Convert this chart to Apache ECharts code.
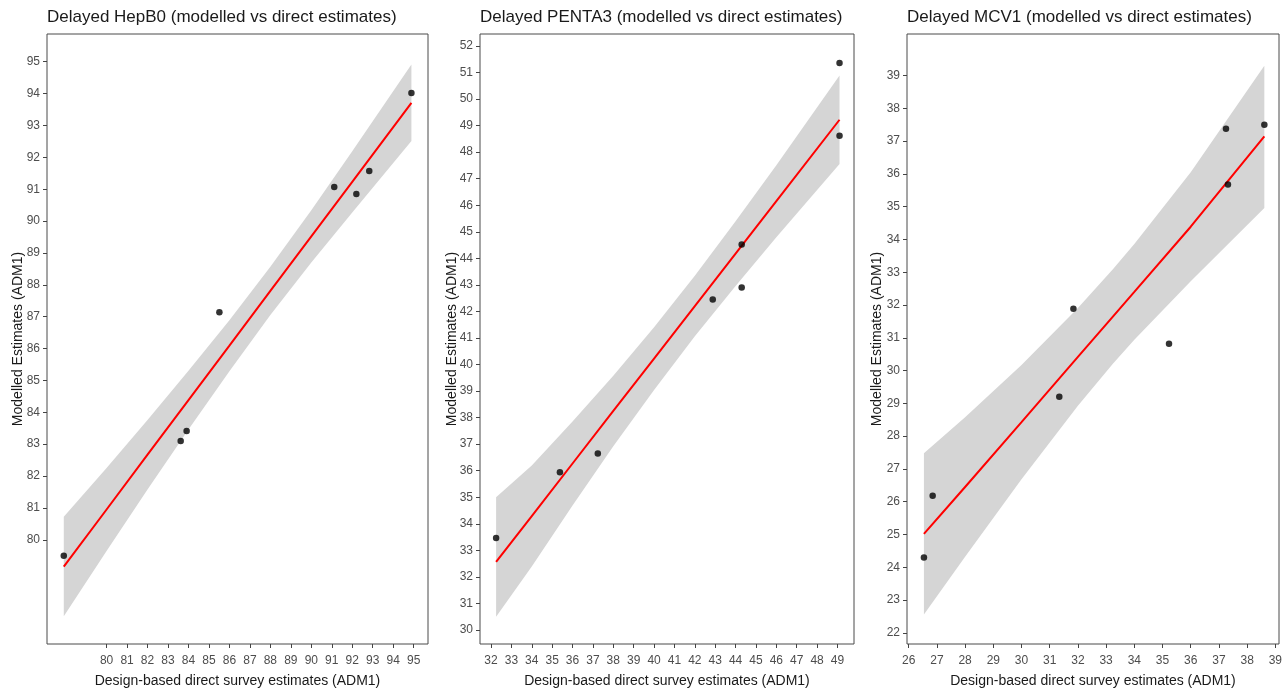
<!DOCTYPE html>
<html>
<head>
<meta charset="utf-8">
<script src="https://cdn.jsdelivr.net/npm/echarts@6/dist/echarts.min.js"></script>
<style>
  html, body { margin: 0; padding: 0; background: #fff; }
  #chart { width: 1282px; height: 691px; }
</style>
</head>
<body>
<div id="chart"></div>
<script>
// ---- Delayed HepB0 ----
const hepTitle = 'Delayed HepB0 (modelled vs direct estimates)';
const hepDirect = [77.91, 85.51, 83.62, 83.91, 91.12, 92.20, 92.83, 94.89];
const hepModel  = [79.50, 87.14, 83.10, 83.41, 91.07, 90.85, 91.57, 94.02];
const hepFitX   = [77.91, 80, 82, 84, 86, 88, 90, 92, 94.89];
const hepFitY   = [79.16, 80.95, 82.67, 84.38, 86.09, 87.81, 89.52, 91.23, 93.71];
const hepFitLo  = [77.60, 79.65, 81.58, 83.46, 85.29, 87.05, 88.70, 90.27, 92.51];
const hepFitHi  = [80.72, 82.25, 83.76, 85.30, 86.89, 88.57, 90.34, 92.19, 94.91];
const hepTicks  = [80, 81, 82, 83, 84, 85, 86, 87, 88, 89, 90, 91, 92, 93, 94, 95];

// ---- Delayed PENTA3 ----
const pentaTitle = 'Delayed PENTA3 (modelled vs direct estimates)';
const pentaDirect = [32.25, 35.38, 37.24, 42.88, 44.30, 44.30, 49.10, 49.10];
const pentaModel  = [33.46, 35.94, 36.65, 42.45, 44.52, 42.90, 51.36, 48.62];
const pentaFitX   = [32.25, 34, 36, 38, 40, 42, 44, 46, 49.10];
const pentaFitY   = [32.56, 34.29, 36.27, 38.25, 40.22, 42.20, 44.18, 46.15, 49.22];
const pentaFitLo  = [30.50, 32.39, 34.69, 36.92, 39.04, 41.06, 42.96, 44.79, 47.55];
const pentaFitHi  = [35.00, 36.19, 37.85, 39.58, 41.40, 43.34, 45.40, 47.51, 50.89];
const pentaXTicks = [32, 33, 34, 35, 36, 37, 38, 39, 40, 41, 42, 43, 44, 45, 46, 47, 48, 49];
const pentaYTicks = [30, 31, 32, 33, 34, 35, 36, 37, 38, 39, 40, 41, 42, 43, 44, 45, 46, 47, 48, 49, 50, 51, 52];

// ---- Delayed MCV1 ----
const mcvTitle = 'Delayed MCV1 (modelled vs direct estimates)';
const mcvDirect = [26.54, 26.85, 31.34, 31.84, 35.23, 37.25, 38.61, 37.32];
const mcvModel  = [24.30, 26.18, 29.20, 31.89, 30.82, 37.38, 37.50, 35.68];
const mcvFitX   = [26.54, 28, 30, 32, 33.24, 34, 36, 38.61];
const mcvFitY   = [25.02, 26.45, 28.43, 30.42, 31.65, 32.40, 34.39, 37.15];
const mcvFitLo  = [22.56, 24.32, 26.69, 28.93, 30.21, 30.94, 32.73, 34.96];
const mcvFitHi  = [27.48, 28.58, 30.17, 31.91, 33.09, 33.86, 36.05, 39.30];
const mcvXTicks = [26, 27, 28, 29, 30, 31, 32, 33, 34, 35, 36, 37, 38, 39];
const mcvYTicks = [22, 23, 24, 25, 26, 27, 28, 29, 30, 31, 32, 33, 34, 35, 36, 37, 38, 39];

const xName = 'Design-based direct survey estimates (ADM1)';
const yName = 'Modelled Estimates (ADM1)';

const FONT = '"Liberation Sans", Arial, sans-serif';
const panels = [
  { title: hepTitle, direct: hepDirect, model: hepModel, fx: hepFitX, fy: hepFitY, lo: hepFitLo, hi: hepFitHi,
    xTicks: hepTicks, yTicks: hepTicks, xMin: 77.09, xMax: 95.70, yMin: 76.73, yMax: 95.87,
    grid: { left: 47, top: 34, width: 381, height: 610 }, yGap: 22 },
  { title: pentaTitle, direct: pentaDirect, model: pentaModel, fx: pentaFitX, fy: pentaFitY, lo: pentaFitLo, hi: pentaFitHi,
    xTicks: pentaXTicks, yTicks: pentaYTicks, xMin: 31.46, xMax: 49.81, yMin: 29.47, yMax: 52.45,
    grid: { left: 480, top: 34, width: 374, height: 610 }, yGap: 21 },
  { title: mcvTitle, direct: mcvDirect, model: mcvModel, fx: mcvFitX, fy: mcvFitY, lo: mcvFitLo, hi: mcvFitHi,
    xTicks: mcvXTicks, yTicks: mcvYTicks, xMin: 25.94, xMax: 39.13, yMin: 21.66, yMax: 40.27,
    grid: { left: 907, top: 34, width: 372, height: 610 }, yGap: 23 }
];

// Confidence band drawn as one closed polygon: upper edge left→right, lower edge back.
function ribbonRenderer(xs, lo, hi) {
  return function (params, api) {
    if (params.dataIndex !== 0) return null;
    const pts = [];
    for (let i = 0; i < xs.length; i++) pts.push(api.coord([xs[i], hi[i]]));
    for (let i = xs.length - 1; i >= 0; i--) pts.push(api.coord([xs[i], lo[i]]));
    return { type: 'polygon', shape: { points: pts }, style: { fill: '#d5d5d5' } };
  };
}

const option = {
  backgroundColor: '#ffffff',
  animation: false,
  title: [], grid: [], xAxis: [], yAxis: [], series: []
};

panels.forEach((p, i) => {
  option.title.push({
    text: p.title, left: p.grid.left, top: 9, padding: 0,
    textStyle: { fontFamily: FONT, fontSize: 17, fontWeight: 'normal', color: '#1a1a1a' }
  });
  option.grid.push(Object.assign({
    show: true, borderColor: '#4a4a4a', borderWidth: 1, backgroundColor: '#fff',
    containLabel: false, outerBoundsMode: 'none'
  }, p.grid));
  const axisCommon = {
    type: 'value', splitLine: { show: false }, axisLine: { show: false },
    nameMoveOverlap: false,
    nameTextStyle: { fontFamily: FONT, fontSize: 14, color: '#1a1a1a' }
  };
  option.xAxis.push(Object.assign({}, axisCommon, {
    gridIndex: i, min: p.xMin, max: p.xMax,
    name: xName, nameLocation: 'middle', nameGap: 30,
    axisTick: { show: true, length: 4, lineStyle: { color: '#444' }, customValues: p.xTicks },
    axisLabel: { customValues: p.xTicks, margin: 11, fontFamily: FONT, fontSize: 12, color: '#4d4d4d' }
  }));
  option.yAxis.push(Object.assign({}, axisCommon, {
    gridIndex: i, min: p.yMin, max: p.yMax,
    name: yName, nameLocation: 'middle', nameGap: p.yGap,
    axisTick: { show: true, length: 4, lineStyle: { color: '#444' }, customValues: p.yTicks },
    axisLabel: { customValues: p.yTicks, margin: 7, fontFamily: FONT, fontSize: 12, color: '#4d4d4d' }
  }));
  option.series.push({
    type: 'custom', xAxisIndex: i, yAxisIndex: i, silent: true, z: 1,
    renderItem: ribbonRenderer(p.fx, p.lo, p.hi),
    data: p.fx.map((x, k) => [x, p.hi[k]])
  });
  option.series.push({
    type: 'line', xAxisIndex: i, yAxisIndex: i, z: 3, showSymbol: false, silent: true,
    lineStyle: { color: '#ff0000', width: 2 },
    data: p.fx.map((x, k) => [x, p.fy[k]])
  });
  option.series.push({
    type: 'scatter', xAxisIndex: i, yAxisIndex: i, z: 4, symbolSize: 6.5,
    itemStyle: { color: '#000' },
    data: p.direct.map((x, k) => [x, p.model[k]])
  });
});

const chart = echarts.init(document.getElementById('chart'), null, { renderer: 'canvas' });
chart.setOption(option);
</script>
</body>
</html>
